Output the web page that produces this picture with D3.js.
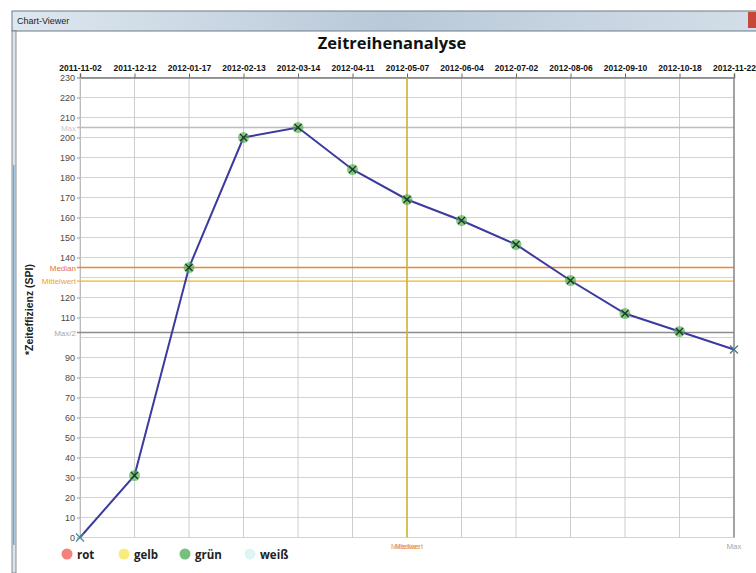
<!DOCTYPE html>
<html>
<head>
<meta charset="utf-8">
<script src="https://cdn.jsdelivr.net/npm/d3@7"></script>
<style>
  body { margin: 0; background: #fff; }
  svg { display: block; font-family: "Liberation Sans", Arial, sans-serif; }
</style>
</head>
<body>
<div id="chart"></div>
<script>
// data
const dates = ["2011-11-02", "2011-12-12", "2012-01-17", "2012-02-13", "2012-03-14", "2012-04-11",
    "2012-05-07", "2012-06-04", "2012-07-02", "2012-08-06", "2012-09-10", "2012-10-18", "2012-11-22"];
const spi = [0, 31, 135, 200, 205, 184, 169, 158.5, 146.5, 128.5, 112, 103, 94];
// 100 and 130 have no label in the original (Max/2, Median, Mittelwert sit there)
const yTicks = [0, 10, 20, 30, 40, 50, 60, 70, 80, 90, 110, 120, 140, 150, 160, 170, 180, 190, 200, 210, 220, 230];
const yGrid = d3.range(0, 231, 10);
const legendNames = ["rot", "gelb", "grün", "weiß"];
const legendColors = ["#f4827a", "#f8ec7c", "#78bf7c", "#def5f4"];

const width = 756, height = 573;
const plotL = 80, plotR = 734, plotT = 77.5, plotB = 537.5;

const svg = d3.select("#chart").append("svg")
    .attr("width", width)
    .attr("height", height);

// window frame
const grad = svg.append("defs").append("linearGradient")
    .attr("id", "bar").attr("x1", 0).attr("x2", 1);
grad.append("stop").attr("offset", "0%").attr("stop-color", "#dfe7ef");
grad.append("stop").attr("offset", "50%").attr("stop-color", "#b9c9d9");
grad.append("stop").attr("offset", "100%").attr("stop-color", "#d4dee8");
svg.append("rect").attr("x", 12).attr("y", 11).attr("width", 750).attr("height", 20)
    .attr("fill", "url(#bar)").attr("stroke", "#6a7a8a");
svg.append("text").attr("x", 17).attr("y", 24).attr("font-size", 9).attr("fill", "#222").text("Chart-Viewer");
svg.append("rect").attr("x", 748).attr("y", 12).attr("width", 10).attr("height", 16).attr("fill", "#c8463a");
svg.append("rect").attr("x", 12).attr("y", 31).attr("width", 4).attr("height", 542)
    .attr("fill", "#dde4ea").attr("stroke", "#6b7580").attr("stroke-width", 0.8);
svg.append("rect").attr("x", 13).attr("y", 165).attr("width", 1.5).attr("height", 380).attr("fill", "#6fa8dc");

svg.append("text")
    .attr("x", 392).attr("y", 49)
    .attr("text-anchor", "middle")
    .attr("font-family", "Open Sans")
    .attr("font-weight", "bold")
    .attr("font-size", 16.5)
    .attr("fill", "#111")
    .text("Zeitreihenanalyse");

const x = d3.scalePoint().domain(dates).range([plotL, plotR]);
const y = d3.scaleLinear().domain([0, 230]).range([plotB, plotT]);

// grid
svg.append("g").selectAll("line").data(yGrid).join("line")
    .attr("x1", plotL).attr("x2", plotR)
    .attr("y1", d => y(d)).attr("y2", d => y(d))
    .attr("stroke", "#d3d3d3");
svg.append("g").selectAll("line").data(dates).join("line")
    .attr("x1", d => x(d)).attr("x2", d => x(d))
    .attr("y1", plotT).attr("y2", plotB)
    .attr("stroke", "#cdcdcd");

// top axis
const topAxis = svg.append("g")
    .attr("transform", `translate(0,${plotT})`)
    .call(d3.axisTop(x).tickSize(4).tickPadding(3));
topAxis.select(".domain").attr("stroke", "#7a7a7a").attr("stroke-width", 1.5);
topAxis.selectAll(".tick line").attr("stroke", "#666");
topAxis.selectAll("text").attr("font-size", 8.5).attr("font-weight", "bold").attr("fill", "#111");

// left axis
const leftAxis = svg.append("g")
    .attr("transform", `translate(${plotL},0)`)
    .call(d3.axisLeft(y).tickValues(yTicks).tickSize(3).tickPadding(2));
leftAxis.select(".domain").attr("stroke", "#bbb");
leftAxis.selectAll(".tick line").attr("stroke", "#999");
leftAxis.selectAll("text").attr("font-size", 9).attr("fill", "#4a4a4a");

svg.append("text")
    .attr("transform", `translate(33,${(plotT + plotB) / 2 + 2}) rotate(-90)`)
    .attr("text-anchor", "middle")
    .attr("font-size", 10.5)
    .attr("font-weight", "bold")
    .attr("fill", "#222")
    .text("*Zeiteffizienz (SPI)");

// reference lines
const maxV = d3.max(spi);
const median = d3.median(spi);
const mean = d3.mean(spi);
const midDate = dates[Math.floor(dates.length / 2)];

const hRefs = [
    {v: maxV, label: "Max", line: "#bdbdbd", text: "#c8c8c8", w: 1.5},
    {v: maxV / 2, label: "Max/2", line: "#8c8c8c", text: "#aaa", w: 1.5},
    {v: median, label: "Median", line: "#f0862a", text: "#e8703a", w: 1.4},
    {v: mean, label: "Mittelwert", line: "#f0b420", text: "#eda22a", w: 1.4}
];
svg.append("g").selectAll("line").data(hRefs).join("line")
    .attr("x1", plotL - 3).attr("x2", plotR)
    .attr("y1", d => y(d.v)).attr("y2", d => y(d.v))
    .attr("stroke", d => d.line).attr("stroke-width", d => d.w);
svg.append("g").selectAll("text").data(hRefs).join("text")
    .attr("x", plotL - 4).attr("y", d => y(d.v) + 3)
    .attr("text-anchor", "end")
    .attr("font-size", 8)
    .attr("fill", d => d.text)
    .text(d => d.label);

svg.append("line")
    .attr("x1", x(midDate)).attr("x2", x(midDate))
    .attr("y1", plotT).attr("y2", plotB)
    .attr("stroke", "#d4b42a").attr("stroke-width", 1.5);
svg.append("line")
    .attr("x1", x(dates[dates.length - 1])).attr("x2", x(dates[dates.length - 1]))
    .attr("y1", plotT).attr("y2", plotB)
    .attr("stroke", "#8c8c8c").attr("stroke-width", 1.5);
// Median and Mittelwert fall on the same date, so their labels print over each other as in the original
svg.append("text").attr("x", x(midDate)).attr("y", 549).attr("text-anchor", "middle")
    .attr("font-size", 7.5).attr("fill", "#eda22a").text("Mittelwert");
svg.append("text").attr("x", x(midDate)).attr("y", 549).attr("text-anchor", "middle")
    .attr("font-size", 7.5).attr("fill", "#e8903a").attr("opacity", 0.8).text("Median");
svg.append("text").attr("x", x(dates[dates.length - 1])).attr("y", 549).attr("text-anchor", "middle")
    .attr("font-size", 8).attr("fill", "#aaa").text("Max");

// series
const pts = dates.map((d, i) => ({d, v: spi[i], i}));
svg.append("path")
    .datum(pts)
    .attr("fill", "none")
    .attr("stroke", "#3b3b9e")
    .attr("stroke-width", 2)
    .attr("d", d3.line().x(p => x(p.d)).y(p => y(p.v)));

const inner = pts.filter(p => p.i > 0 && p.i < pts.length - 1);
svg.append("g").selectAll("circle").data(inner).join("circle")
    .attr("cx", p => x(p.d)).attr("cy", p => y(p.v)).attr("r", 5.5)
    .attr("fill", "#4caf50").attr("opacity", 0.65);

const cross = (g, p, s, col) => {
    const cx = x(p.d), cy = y(p.v);
    g.append("path")
        .attr("d", `M${cx - s},${cy - s}L${cx + s},${cy + s}M${cx - s},${cy + s}L${cx + s},${cy - s}`)
        .attr("stroke", col).attr("stroke-width", 1.3);
};
const marks = svg.append("g");
inner.forEach(p => cross(marks, p, 3.5, "#1d3a1d"));
cross(marks, pts[0], 4, "#4a8a96");
cross(marks, pts[pts.length - 1], 4, "#4a7a96");

// legend
const legend = svg.append("g").selectAll("g").data(legendNames).join("g")
    .attr("transform", (d, i) => `translate(${[67, 124, 185, 250][i]},554)`);
legend.append("circle").attr("r", 5.5).attr("fill", (d, i) => legendColors[i]);
legend.append("text")
    .attr("x", 10).attr("y", 4.5)
    .attr("font-family", "Open Sans")
    .attr("font-size", 11.5)
    .attr("font-weight", "bold")
    .attr("fill", "#222")
    .text(d => d);
</script>
</body>
</html>
